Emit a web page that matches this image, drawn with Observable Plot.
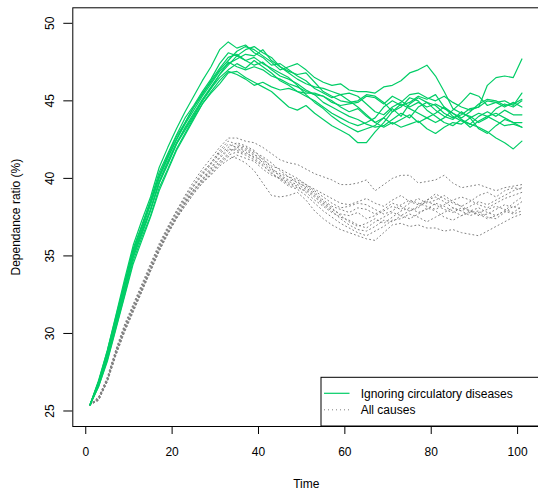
<!DOCTYPE html>
<html><head><meta charset="utf-8">
<script src="https://cdn.jsdelivr.net/npm/d3@7"></script>
<script src="https://cdn.jsdelivr.net/npm/@observablehq/plot@0.6"></script>
<style>html,body{margin:0;padding:0;background:#fff;overflow:hidden} svg{display:block;max-width:none !important;width:540px !important;height:490px !important}</style>
</head><body><div id="chart"></div>
<script>
const time = [1,3,5,7,9,11,13,15,17,19,21,23,25,27,29,31,33,35,37,39,41,43,45,47,49,51,53,55,57,59,61,63,65,67,69,71,73,75,77,79,81,83,85,87,89,91,93,95,97,99,101];
const xTicks = [0,20,40,60,80,100];
const yTicks = [25,30,35,40,45,50];
const legendLabels = ["Ignoring circulatory diseases","All causes"];

const green01 = [25.4,26.9,28.9,31.2,33.5,35.7,37.3,38.8,40.7,42.0,43.2,44.3,45.3,46.3,47.2,48.3,48.8,48.4,48.6,48.1,47.8,47.3,47.4,47.0,46.6,46.3,45.8,45.5,45.2,45.4,45.0,44.6,44.1,43.6,43.9,44.5,44.0,44.8,45.2,44.9,44.4,44.0,43.8,44.3,43.9,43.2,42.9,43.4,43.8,43.6,43.3];
const green02 = [25.4,26.8,28.7,30.9,33.2,35.4,36.9,38.5,40.2,41.5,42.7,43.6,44.6,45.5,46.2,47.0,47.6,48.2,48.5,48.3,47.9,47.5,47.0,47.2,47.4,47.0,46.5,46.2,46.0,46.1,45.7,45.6,45.6,45.5,45.9,46.0,46.3,46.8,47.0,47.3,46.6,45.6,44.5,44.2,44.0,43.6,43.9,44.5,44.8,44.6,45.0];
const green03 = [25.4,26.7,28.4,30.6,32.7,34.9,36.4,37.9,39.7,40.9,42.2,43.3,44.2,45.1,45.9,46.7,47.3,47.9,47.6,47.3,47.5,47.0,46.6,46.4,46.1,45.7,45.4,44.9,44.6,44.3,44.0,43.8,43.5,43.3,43.4,43.8,44.2,43.9,44.6,44.9,44.7,44.2,43.9,44.1,44.5,44.6,46.0,46.5,46.6,46.5,47.7];
const green04 = [25.4,26.6,28.2,30.3,32.4,34.5,36.0,37.5,39.2,40.5,41.8,42.8,43.8,44.8,45.5,46.1,46.8,46.9,46.5,46.2,45.9,45.6,45.1,44.6,44.4,44.7,44.2,43.8,43.4,43.1,42.8,42.3,42.3,43.0,43.6,44.3,44.6,45.2,45.0,44.4,44.0,43.6,43.4,43.8,43.3,43.7,44.0,44.2,43.9,43.6,43.6];
const green05 = [25.4,26.9,28.6,30.7,32.9,35.1,36.6,38.0,39.8,41.1,42.3,43.2,44.1,45.0,45.8,46.5,47.0,47.4,47.1,47.6,47.2,46.8,46.3,46.0,45.6,45.3,45.0,44.6,44.2,43.9,43.6,43.4,43.6,43.9,44.6,45.0,44.7,44.9,45.3,45.1,45.4,44.6,44.2,43.8,43.5,43.3,43.0,42.6,42.3,41.9,42.4];
const green06 = [25.4,27.0,28.9,31.1,33.3,35.5,37.0,38.6,40.4,41.6,42.8,43.9,44.7,45.6,46.4,47.4,48.1,47.9,48.3,48.5,48.1,47.8,47.2,46.9,46.7,46.8,46.2,45.6,45.3,45.0,44.9,45.0,45.4,45.3,44.9,44.3,44.8,44.5,44.2,43.9,43.6,43.9,44.4,44.9,45.5,45.3,44.7,44.9,45.0,44.7,45.5];
const green07 = [25.4,26.7,28.5,30.6,32.8,35.0,36.5,38.0,39.7,41.0,42.2,43.1,44.0,45.0,45.8,46.7,47.5,47.2,47.0,47.2,47.0,46.6,46.4,46.1,45.9,45.6,45.4,45.3,45.0,44.6,44.3,44.5,44.0,43.6,43.3,43.6,43.3,43.5,43.7,43.2,42.9,43.3,43.6,43.5,43.9,44.2,44.0,43.7,43.4,43.5,43.3];
const green08 = [25.4,26.6,28.3,30.4,32.5,34.7,36.2,37.6,39.4,40.6,41.9,42.9,43.9,44.8,45.6,46.3,46.9,46.7,46.4,46.0,46.2,45.9,45.7,45.8,45.6,45.5,45.5,45.3,44.9,44.7,44.8,44.9,45.3,45.2,44.8,45.3,45.0,44.6,44.9,44.6,44.8,44.5,44.2,43.9,44.3,44.8,45.1,45.0,44.7,44.8,45.1];
const green09 = [25.4,26.9,28.8,31.0,33.1,35.3,36.9,38.4,40.1,41.4,42.5,43.6,44.6,45.4,46.3,47.1,47.8,48.0,47.6,47.8,47.4,47.1,46.8,46.5,46.0,45.4,44.9,44.5,44.0,43.6,43.3,43.0,43.2,43.4,43.9,43.5,43.8,44.1,43.6,43.9,44.2,44.6,44.0,43.7,43.5,44.0,44.3,44.0,44.4,44.1,44.1];
const green10 = [25.4,26.8,28.6,30.8,33.0,35.2,36.7,38.3,40.0,41.3,42.5,43.5,44.4,45.3,46.1,46.9,47.4,47.7,48.0,47.9,48.3,47.6,47.2,46.8,46.4,46.1,45.9,45.8,45.6,45.4,45.5,45.3,44.8,44.3,44.1,44.6,44.9,45.4,45.5,45.2,45.0,45.3,44.9,44.6,44.4,44.6,45.0,44.9,44.6,44.9,44.6];

const gray01 = [25.4,25.9,27.2,29.0,30.6,31.9,33.2,34.5,35.8,36.9,37.9,38.9,39.8,40.6,41.3,42.0,42.6,42.6,42.4,42.3,42.0,41.6,41.2,41.0,40.9,40.6,40.3,40.1,39.9,39.6,39.6,39.7,39.9,39.2,39.6,40.0,40.2,40.2,39.7,39.8,39.9,40.2,39.7,39.4,39.5,39.6,39.4,39.2,39.4,39.5,39.6];
const gray02 = [25.4,25.7,26.9,28.6,30.1,31.4,32.7,34.0,35.3,36.4,37.4,38.2,39.0,39.7,40.3,40.9,41.4,41.3,41.0,40.5,39.7,38.9,38.8,38.9,39.1,38.6,37.9,37.4,37.0,36.7,36.5,36.3,36.1,36.0,36.5,37.0,37.1,36.9,37.0,36.8,36.8,36.6,36.7,36.5,36.4,36.3,36.6,36.9,37.2,37.5,37.7];
const gray03 = [25.4,25.8,27.1,28.9,30.4,31.7,33.0,34.3,35.6,36.7,37.7,38.6,39.5,40.2,40.9,41.6,42.0,42.3,42.1,41.8,41.2,40.8,40.6,40.3,40.0,39.6,39.3,39.0,38.7,38.4,38.3,38.5,38.7,38.4,38.2,38.6,38.9,38.5,38.3,38.6,39.0,38.7,38.4,38.2,38.5,38.9,39.1,38.8,39.2,39.4,39.3];
const gray04 = [25.4,25.8,27.0,28.7,30.2,31.5,32.8,34.1,35.4,36.5,37.5,38.4,39.2,39.9,40.6,41.3,41.8,41.9,41.7,41.3,40.9,40.3,40.0,39.7,39.5,39.1,38.6,38.2,37.8,37.5,37.3,37.0,36.8,37.2,37.5,37.8,37.6,37.9,38.2,38.5,38.3,38.0,37.8,38.1,37.9,37.6,37.7,38.0,38.3,38.1,38.5];
const gray05 = [25.4,25.9,27.1,28.9,30.4,31.8,33.0,34.3,35.6,36.8,37.8,38.7,39.5,40.3,41.0,41.7,42.2,42.0,41.8,41.5,41.3,40.7,40.1,39.8,39.6,39.3,38.9,38.4,38.0,37.7,37.6,37.8,37.4,37.6,37.9,38.2,38.0,38.4,38.7,38.4,38.6,38.9,38.5,38.2,37.9,38.1,37.8,37.6,37.9,37.7,37.9];
const gray06 = [25.4,25.7,26.9,28.7,30.2,31.5,32.8,34.1,35.4,36.5,37.5,38.4,39.2,39.9,40.5,41.1,41.6,42.1,41.9,41.6,41.0,40.5,40.2,39.9,39.8,39.4,39.0,38.5,38.1,37.6,37.2,36.9,37.1,37.4,37.1,37.5,37.9,38.1,37.8,38.0,38.4,38.2,37.9,37.6,37.8,37.9,37.5,37.4,37.8,38.2,38.0];
const gray07 = [25.4,25.8,26.9,28.6,30.1,31.4,32.7,34.0,35.3,36.4,37.4,38.3,39.1,39.7,40.2,40.8,41.2,41.5,41.3,41.1,40.6,40.2,40.0,39.6,39.4,39.2,38.8,38.3,37.9,37.4,37.0,36.7,36.6,36.9,37.3,37.2,37.6,37.4,37.7,38.1,37.9,37.5,37.3,37.6,37.9,37.7,37.4,37.6,37.9,38.4,38.8];
const gray08 = [25.4,25.9,27.1,28.9,30.5,31.8,33.1,34.4,35.7,36.8,37.9,38.8,39.6,40.4,41.0,41.8,42.4,42.2,42.0,41.7,41.4,41.0,40.5,40.1,39.7,39.5,39.1,38.6,38.2,38.0,37.8,38.1,38.0,37.7,38.0,38.4,38.2,37.9,38.1,38.6,38.8,38.5,38.1,37.9,38.2,38.5,38.3,38.6,38.9,39.2,39.4];
const gray09 = [25.4,25.7,27.0,28.8,30.3,31.6,32.8,34.1,35.4,36.5,37.5,38.4,39.2,39.8,40.4,41.0,41.5,41.7,41.5,41.2,40.8,40.4,39.9,39.5,39.3,38.9,38.4,37.9,37.5,37.1,36.8,36.5,36.3,36.6,36.9,37.3,37.4,37.7,37.5,37.2,37.5,37.8,38.1,37.9,37.6,37.8,38.0,38.2,38.0,37.8,38.2];
const gray10 = [25.4,25.8,27.0,28.8,30.3,31.6,32.9,34.2,35.5,36.6,37.6,38.5,39.3,40.0,40.7,41.4,41.9,41.8,41.6,41.4,41.1,40.6,40.3,40.1,39.9,39.6,39.2,38.8,38.4,38.1,38.2,38.4,38.3,38.0,37.7,37.9,38.3,38.6,38.4,38.2,38.0,38.3,38.6,38.8,38.6,38.3,38.1,38.4,38.7,38.9,39.1];

const greens = [green01,green02,green03,green04,green05,green06,green07,green08,green09,green10];
const grays = [gray01,gray02,gray03,gray04,gray05,gray06,gray07,gray08,gray09,gray10];
const toRows = (list) => list.flatMap((vals, i) => vals.map((v, j) => ({t: time[j], v, s: i})));
const greenRows = toRows(greens);
const grayRows = toRows(grays);

const GREEN = "#00CD66";
const GRAY = "#808080";
const FONT = "'Liberation Sans', Arial, Helvetica, sans-serif";

const plot = Plot.plot({
  width: 540, height: 490,
  marginLeft: 72.3, marginRight: 0.8, marginTop: 7.3, marginBottom: 64,
  style: {fontFamily: FONT, fontSize: "12px", color: "black", background: "white", maxWidth: "none"},
  x: {domain: [-3, 105.12], axis: null},
  y: {domain: [24, 51], axis: null},
  marks: [
    Plot.line(grayRows, {x: "t", y: "v", z: "s", stroke: GRAY, strokeWidth: 1, strokeDasharray: "1,3"}),
    Plot.line(greenRows, {x: "t", y: "v", z: "s", stroke: GREEN, strokeWidth: 1.2}),
    Plot.axisX({ticks: xTicks, tickSize: 8, tickFormat: () => "", label: null, stroke: "black"}),
    Plot.axisY({ticks: yTicks, tickSize: 9, tickFormat: () => "", label: null, stroke: "black"}),
    Plot.text(xTicks, {x: d => d, frameAnchor: "bottom", lineAnchor: "middle", dy: 25.2, text: d => String(d), fontSize: 12, fill: "black"}),
    Plot.text(yTicks, {y: d => d, frameAnchor: "left", textAnchor: "middle", lineAnchor: "middle", rotate: -90, dx: -22.6, text: d => String(d), fontSize: 12, fill: "black"}),
    Plot.text(["Time"], {frameAnchor: "bottom", lineAnchor: "middle", dy: 57.2, text: d => d, fontSize: 12, fill: "black"}),
    Plot.text(["Dependance ratio (%)"], {frameAnchor: "left", textAnchor: "middle", lineAnchor: "middle", rotate: -90, dx: -56.5, text: d => d, fontSize: 12, fill: "black"}),
    Plot.frame({stroke: "black", strokeWidth: 1})
  ]
});

// Legend (R "bottomright" style, inside the plot box)
const svg = d3.select(plot);
const g = svg.append("g").attr("font-family", FONT).attr("font-size", 12).attr("text-anchor", "start");
const boxL = 321, boxT = 377.3, boxR = 539.2, boxB = 426;
g.append("rect").attr("x", boxL).attr("y", boxT).attr("width", boxR - boxL).attr("height", boxB - boxT)
  .attr("fill", "white").attr("stroke", "black").attr("stroke-width", 1);
const rowsY = [393.3, 409.8];
const styles = [{stroke: GREEN, w: 1.2, dash: null}, {stroke: GRAY, w: 1, dash: "1,3"}];
legendLabels.forEach((lab, i) => {
  const ln = g.append("line").attr("x1", 324).attr("x2", 349.5).attr("y1", rowsY[i]).attr("y2", rowsY[i])
    .attr("stroke", styles[i].stroke).attr("stroke-width", styles[i].w);
  if (styles[i].dash) ln.attr("stroke-dasharray", styles[i].dash);
  g.append("text").attr("x", 360.7).attr("y", rowsY[i] + 4.3).attr("fill", "black")
    .attr("text-anchor", "start").text(lab);
});

document.getElementById("chart").appendChild(plot);
</script>
</body></html>
